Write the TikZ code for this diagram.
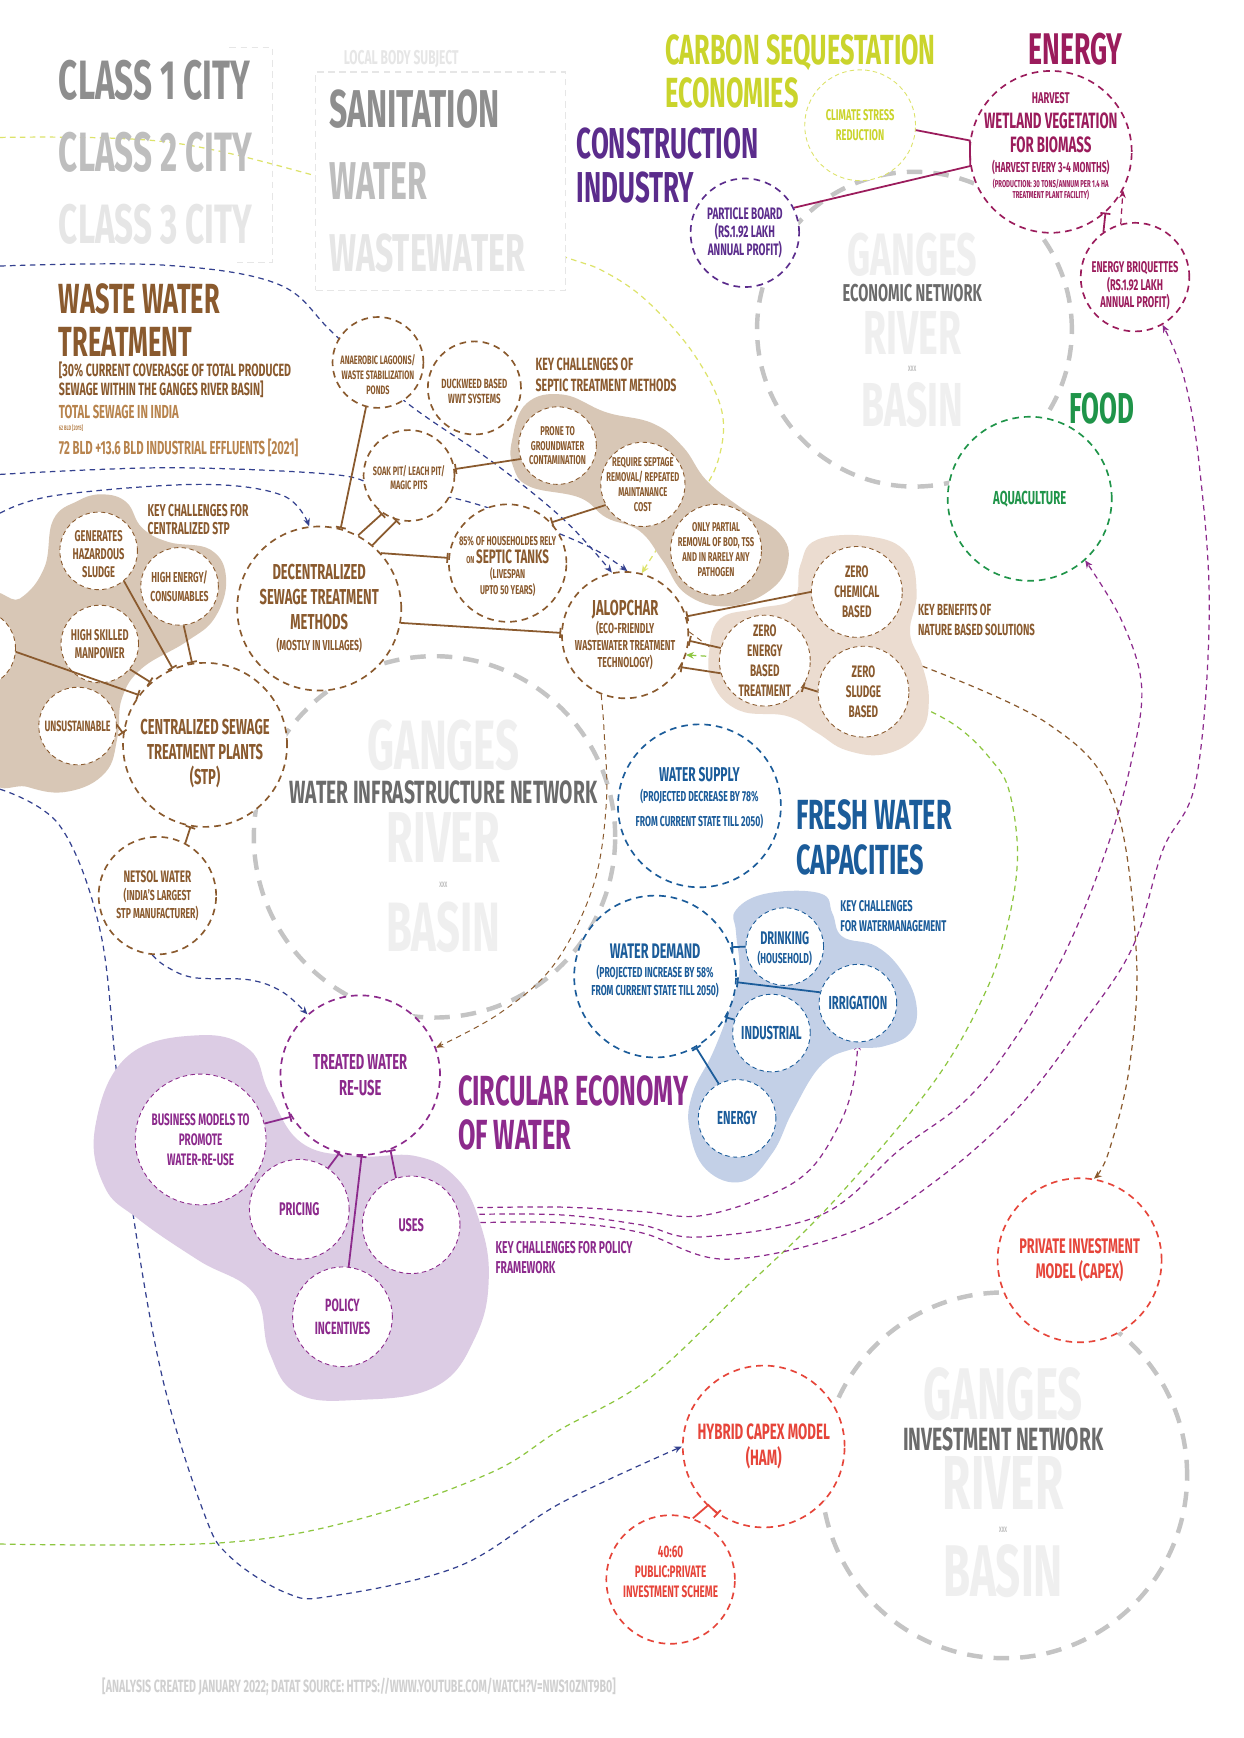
\documentclass[tikz,border=0pt]{standalone}
\usepackage{fontspec}
\setmainfont{Fira Sans}[FakeStretch=0.6]
\usetikzlibrary{arrows.meta}
\pgfdeclarelayer{back}
\pgfdeclarelayer{blobs}
\pgfsetlayers{back,blobs,main}
\definecolor{brn}{HTML}{8A5A2E}
\definecolor{lbrn}{HTML}{B8844E}
\definecolor{beige}{HTML}{D8C7B6}
\definecolor{beigel}{HTML}{EBDCD0}
\definecolor{gone}{HTML}{8E8E8E}
\definecolor{gtwo}{HTML}{BEBEBE}
\definecolor{gthr}{HTML}{E6E6E6}
\definecolor{gnet}{HTML}{6B6B6B}
\definecolor{gbas}{HTML}{EFEFEF}
\definecolor{gcir}{HTML}{C4C4C4}
\definecolor{ylw}{HTML}{CAD42C}
\definecolor{ylwl}{HTML}{DDE36A}
\definecolor{mar}{HTML}{9B1C5C}
\definecolor{pur}{HTML}{5B2C8C}
\definecolor{grn}{HTML}{1F9449}
\definecolor{blu}{HTML}{1B5C9A}
\definecolor{blub}{HTML}{C3D0E7}
\definecolor{vio}{HTML}{8C2A8C}
\definecolor{viob}{HTML}{DCCCE4}
\definecolor{red1}{HTML}{E6453A}
\definecolor{nav}{HTML}{34418F}
\definecolor{lim}{HTML}{8DC63F}
\definecolor{ftr}{HTML}{D0D0D0}
\newcommand{\fs}[2]{\fontsize{#1}{#2}\bfseries}
% circle node plus its text node
\newcommand{\bub}[6][]{%
  \node[#1, minimum size=#4] (#2) at (#3) {};
  \node[lbl, #5] (#2-t) at (#2.center) {#6};}

\begin{document}
\begin{tikzpicture}[x=1pt, y=-1pt,
  dcirc/.style={circle, draw=#1, fill=white, line width=1.5pt, dash pattern=on 6pt off 4.5pt, inner sep=0pt},
  tcirc/.style={circle, draw=#1, fill=white, line width=0.8pt, dash pattern=on 4pt off 3pt, inner sep=0pt},
  basin/.style={circle, draw=gcir, line width=4pt, dash pattern=on 14pt off 10pt, inner sep=0pt},
  lnk/.style={draw=#1, line width=1.1pt, dash pattern=on 5pt off 4pt},
  arw/.style={-{Stealth[length=7pt, width=6pt]}},
  tie/.style={draw=#1, line width=1.6pt, -{Bar[width=9pt]}},
  lbl/.style={inner sep=0pt, align=center},
  ttl/.style={inner sep=0pt, anchor=base west},
  mid/.style={inner sep=0pt, anchor=base}]

  \useasboundingbox (0,0) rectangle (1122,1568);

  \coordinate (wa) at (0,240);
  \coordinate (wb) at (0,428);
  \coordinate (wc) at (0,463);
  \coordinate (we) at (0,712);
  \coordinate (wy) at (0,124);
  \coordinate (wg) at (0,1393);
  \coordinate (nbs) at (832,601);

  \node[draw=gthr, fill=white, line width=1pt, dash pattern=on 6pt off 4pt, minimum width=225pt, minimum height=197pt, inner sep=0pt] (sbox) at (397.5,163.5) {};
  \draw[gthr, line width=1pt, dash pattern=on 6pt off 4pt] (207,43) -- (246,43) -- (246,237) -- (214,237);

  % wastewater
  \bub[dcirc=brn]{ana}{341,327}{82pt}{text=brn, font=\fs{11}{13.5}, yshift=-11pt}{ANAEROBIC LAGOONS/\\WASTE STABILIZATION\\PONDS}
  \bub[dcirc=brn]{duck}{428,350}{84pt}{text=brn, font=\fs{12}{13.5}, yshift=-3pt}{DUCKWEED BASED\\WWT SYSTEMS}
  \bub[dcirc=brn]{soak}{369,429}{82pt}{text=brn, font=\fs{11}{13}, yshift=-2pt}{SOAK PIT/ LEACH PIT/\\MAGIC PITS}
  \bub[dcirc=brn]{sep}{458,508}{106pt}{text=brn, font=\fs{11.5}{14}, yshift=-3pt}{85\% OF HOUSEHOLDES RELY\\[2pt]{\fs{9}{14}ON} {\fs{17.5}{14}SEPTIC TANKS}\\(LIVESPAN\\UPTO 50 YEARS)}
  \bub[dcirc=brn]{dec}{288,549}{148pt}{text=brn, font=\fs{19.5}{22.5}}{DECENTRALIZED\\SEWAGE TREATMENT\\METHODS\\[-4pt]{\fs{13}{15}(MOSTLY IN VILLAGES)}}
  \bub[dcirc=brn]{jal}{564,573}{114pt}{text=brn, font=\fs{13}{15.5}}{{\fs{19.5}{20}JALOPCHAR}\\(ECO-FRIENDLY\\WASTEWATER TREATMENT\\TECHNOLOGY)}
  \bub[dcirc=brn]{stp}{185,672}{148pt}{text=brn, font=\fs{19.5}{22.5}, yshift=-8pt}{CENTRALIZED SEWAGE\\TREATMENT PLANTS\\(STP)}
  \bub[dcirc=brn]{net}{142,808}{106pt}{text=brn, font=\fs{13}{16.5}}{{\fs{15}{16.5}NETSOL WATER}\\(INDIA'S LARGEST\\STP MANUFACTURER)}
  \bub[tcirc=brn]{gen}{89,497}{70pt}{text=brn, font=\fs{14}{16.5}, yshift=-3pt}{GENERATES\\HAZARDOUS\\SLUDGE}
  \bub[tcirc=brn]{hen}{162,529}{70pt}{text=brn, font=\fs{13}{16.5}}{HIGH ENERGY/\\CONSUMABLES}
  \bub[tcirc=brn]{man}{90,581}{70pt}{text=brn, font=\fs{14}{16}}{HIGH SKILLED\\MANPOWER}
  \bub[tcirc=brn]{uns}{70,655}{70pt}{text=brn, font=\fs{13.5}{16}}{UNSUSTAINABLE}
  \bub[tcirc=brn]{lc}{-21,585}{70pt}{}{}
  \bub[tcirc=brn]{pro}{503,402}{70pt}{text=brn, font=\fs{11.5}{13.5}}{PRONE TO\\GROUNDWATER\\CONTAMINATION}
  \bub[tcirc=brn]{req}{580,437}{76pt}{text=brn, font=\fs{11.5}{13.5}}{REQUIRE SEPTAGE\\REMOVAL/ REPEATED\\MAINTANANCE\\COST}
  \bub[tcirc=brn]{onl}{646,496}{82pt}{text=brn, font=\fs{11.5}{13.5}}{ONLY PARTIAL\\REMOVAL OF BOD, TSS\\AND IN RARELY ANY\\PATHOGEN}
  \bub[tcirc=brn]{zc}{773,534}{82pt}{text=brn, font=\fs{15}{18}}{ZERO\\CHEMICAL\\BASED}
  \bub[tcirc=brn]{ze}{690,596}{82pt}{text=brn, font=\fs{15}{18}}{ZERO\\ENERGY\\BASED\\TREATMENT}
  \bub[tcirc=brn]{zs}{779,624}{82pt}{text=brn, font=\fs{15}{18}}{ZERO\\SLUDGE\\BASED}

  % fresh water
  \bub[dcirc=blu]{sup}{631,727}{147pt}{text=blu, font=\fs{13}{18}, yshift=7pt}{{\fs{18}{18}WATER SUPPLY}\\(PROJECTED DECREASE BY 78\%\\[4pt]FROM CURRENT STATE TILL 2050)}
  \bub[dcirc=blu]{dem}{591,881}{146pt}{text=blu, font=\fs{13}{16.5}, yshift=5pt}{{\fs{19}{18}WATER DEMAND}\\(PROJECTED INCREASE BY 58\%\\FROM CURRENT STATE TILL 2050)}
  \bub[tcirc=blu]{dri}{708,854}{70pt}{text=blu, font=\fs{13}{17}, yshift=-2pt}{{\fs{16.5}{17}DRINKING}\\(HOUSEHOLD)}
  \bub[tcirc=blu]{irr}{774,905}{70pt}{text=blu, font=\fs{17}{18}}{IRRIGATION}
  \bub[tcirc=blu]{ind}{696,932}{70pt}{text=blu, font=\fs{17}{18}}{INDUSTRIAL}
  \bub[tcirc=blu]{ben}{665,1009}{70pt}{text=blu, font=\fs{17}{18}}{ENERGY}

  % circular economy
  \bub[dcirc=vio]{tr}{325,970}{144pt}{text=vio, font=\fs{19.5}{23}}{TREATED WATER\\RE-USE}
  \bub[tcirc=vio]{bus}{181,1028}{118pt}{text=vio, font=\fs{15}{18}}{BUSINESS MODELS TO\\PROMOTE\\WATER-RE-USE}
  \bub[tcirc=vio]{pri}{270,1091}{90pt}{text=vio, font=\fs{16.5}{18}}{PRICING}
  \bub[tcirc=vio]{use}{371,1105}{88pt}{text=vio, font=\fs{16.5}{18}}{USES}
  \bub[tcirc=vio]{pol}{309,1188}{90pt}{text=vio, font=\fs{16}{20}}{POLICY\\INCENTIVES}

  % investment
  \bub[dcirc=red1]{piv}{974,1137}{148pt}{text=red1, font=\fs{19}{22}}{PRIVATE INVESTMENT\\MODEL (CAPEX)}
  \bub[dcirc=red1]{ham}{689,1305}{146pt}{text=red1, font=\fs{20}{23}}{HYBRID CAPEX MODEL\\(HAM)}
  \bub[dcirc=red1]{fty}{605,1425}{116pt}{text=red1, font=\fs{15}{18}, yshift=7pt}{40:60\\PUBLIC:PRIVATE\\INVESTMENT SCHEME}

  % economic
  \bub[tcirc=ylwl]{cli}{776,113}{100pt}{text=ylw, font=\fs{14}{18}}{CLIMATE STRESS\\REDUCTION}
  \bub[dcirc=mar]{egy}{948,137}{146pt}{text=mar, font=\fs{14}{22}, yshift=5pt}{HARVEST\\{\fs{20}{22}WETLAND VEGETATION}\\{\fs{20}{22}FOR BIOMASS}\\[-4pt]{\fs{13}{15}(HARVEST EVERY 3-4 MONTHS)}\\[-9pt]{\fs{9}{10}(PRODUCTION: 30 TONS/ANNUM PER 1.4 HA}\\[-12pt]{\fs{9}{10}TREATMENT PLANT FACILITY)}}
  \bub[dcirc=pur]{par}{672,210}{98pt}{text=pur, font=\fs{15}{16.5}}{PARTICLE BOARD\\(RS.1.92 LAKH\\ANNUAL PROFIT)}
  \bub[dcirc=mar]{bri}{1024,250}{98pt}{text=mar, font=\fs{14}{16}, yshift=-8pt}{ENERGY BRIQUETTES\\(RS.1.92 LAKH\\ANNUAL PROFIT)}
  \bub[dcirc=grn]{aqu}{929,450}{148pt}{text=grn, font=\fs{17}{18}}{AQUACULTURE}

  \begin{pgfonlayer}{back}
    \fill[white] (0,0) rectangle (1122,1568);
    \node[basin, minimum size=284pt] (eco) at (825,297) {};
    \node[basin, minimum size=326pt] (wat) at (392,755) {};
    \node[basin, minimum size=330pt] (inv) at (906,1331) {};
    \draw[lnk=ylwl, arw] plot[smooth, tension=0.6] coordinates {(wy) (150,128) (290,160) (400,195) (510,232) (545,245) (583,271) (625,318) (651,370) (648,415) (628,452) (600,485) (jal.75)};
    \draw[lnk=nav, arw] plot[smooth, tension=0.6] coordinates {(wa) (145,239) (250,256) (300,300) (364,361) (446,418) (510,470) (jal.102)};
    \draw[lnk=nav, arw] plot[smooth, tension=0.6] coordinates {(wb) (150,422) (300,428) (345,440) (412,450) (480,472) (535,495) (jal.88)};
    \draw[lnk=nav, arw] plot[smooth, tension=0.6] coordinates {(wc) (50,447) (180,437) (255,447) (dec.97)};
    \draw[lnk=nav, arw] plot[smooth, tension=0.6] coordinates {(we) (54,745) (90,838) (105,966) (120,1095) (147,1245) (184,1365) (207,1404) (258,1437) (299,1440) (414,1413) (506,1356) (ham.180)};
    \draw[lnk=nav, arw] plot[smooth, tension=0.6] coordinates {(net.-95) (150,872) (175,882) (225,884) (255,895) (tr.131)};
    \draw[lnk=lim, arw] plot[smooth, tension=0.6] coordinates {(wg) (198,1392) (322,1371) (442,1329) (505,1290) (584,1245) (670,1164) (751,1085) (842,977) (890,893) (910,830) (918,770) (910,712) (893,684) (868,659) (838,641) (780,615) (700,598) (jal.-18)};
    \draw[lnk=brn, line width=0.9pt, arw] plot[smooth, tension=0.6] coordinates {(jal.-112) (545,660) (547,725) (535,800) (500,870) (451,914) (tr.20)};
    \draw[lnk=brn, arw] plot[smooth, tension=0.6] coordinates {(nbs) (944,652) (1004,719) (1025,857) (1019,962) (1000,1040) (piv.80)};
    \draw[lnk=vio, arw] plot[smooth, tension=0.6] coordinates {(use.20) (505,1089) (578,1093) (631,1097) (692,1079) (731,1055) (758,1013) (770,977) (irr.-90)};
    \draw[lnk=vio, arw] plot[smooth, tension=0.6] coordinates {(use.12) (505,1096) (578,1105) (631,1116) (741,1096) (812,1037) (872,992) (917,935) (962,857) (998,767) (1020,690) (1030,620) (1012,560) (aqu.-48)};
    \draw[lnk=vio, arw] plot[smooth, tension=0.6] coordinates {(use.2) (505,1103) (578,1112) (655,1136) (767,1112) (842,1067) (917,1001) (977,923) (1022,854) (1049,767) (1079,704) (1091,553) (1082,420) (1068,340) (bri.-60)};
    \draw[lnk=mar, arw] (bri.105) -- (egy.-28);
    \draw[lnk=brn, line width=0.8pt] (jal.3) -- (ze.172);
  \end{pgfonlayer}

  \begin{pgfonlayer}{blobs}
    \fill[beige] plot[smooth cycle, tension=0.7] coordinates {(48,469) (70,452) (92,446) (114,453) (128,476) (152,489) (190,496) (204,522) (194,557) (168,579) (128,603) (110,630) (106,665) (95,697) (62,714) (25,710) (-12,692) (-12,548) (18,540) (40,512)};
    \fill[beige] plot[smooth cycle, tension=0.7] coordinates {(462,397) (475,364) (508,356) (547,372) (589,382) (616,403) (637,433) (667,457) (703,481) (711,507) (694,533) (656,547) (619,536) (598,506) (577,479) (547,467) (523,449) (478,439) (463,421)};
    \fill[beigel] plot[smooth cycle, tension=0.7] coordinates {(737,487) (785,484) (818,499) (827,535) (821,571) (832,600) (838,632) (830,661) (800,680) (764,677) (737,661) (710,646) (667,641) (643,617) (640,586) (650,558) (683,549) (716,540) (722,510)};
    \fill[blub] plot[smooth cycle, tension=0.7] coordinates {(664,821) (692,806) (740,806) (751,824) (760,845) (791,854) (815,878) (827,908) (821,932) (797,944) (767,947) (740,962) (715,1003) (697,1040) (670,1066) (637,1055) (622,1019) (625,986) (643,950) (658,911) (667,878) (664,841)};
    \fill[viob] plot[smooth cycle, tension=0.7] coordinates {(86,1016) (115,953) (179,934) (225,947) (243,986) (272,1031) (322,1043) (375,1043) (411,1062) (432,1100) (441,1152) (429,1206) (393,1251) (322,1263) (268,1257) (243,1220) (229,1167) (179,1137) (125,1100) (94,1070)};
  \end{pgfonlayer}

  \draw[tie=brn] (gen.-50) -- (stp.113);
  \draw[tie=brn] (hen.-84) -- (stp.99);
  \draw[tie=brn] (man.-40) -- (stp.131);
  \draw[tie=brn] (lc.-5) -- (stp.143);
  \draw[tie=brn] (uns.2) -- (stp.172);
  \draw[tie=brn] (net.62) -- (stp.-100);
  \draw[tie=brn] (ana.255) -- (dec.75);
  \draw[tie=brn] (dec.62) -- (soak.235);
  \draw[tie=brn] (dec.50) -- (soak.255);
  \draw[tie=brn] (dec.42) -- (sep.175);
  \draw[tie=brn] (dec.-10) -- (jal.178);
  \draw[tie=brn] (pro.200) -- (soak.8);
  \draw[tie=brn] (req.209) -- (sep.43);
  \draw[tie=brn] (zc.180) -- (jal.17);
  \draw[tie=brn] (ze.164) -- (jal.-5);
  \draw[tie=brn] (ze.196) -- (jal.-30);
  \draw[tie=brn] (zs.180) -- (ze.-35);
  \draw[tie=blu] (dri.180) -- (dem.21);
  \draw[tie=blu] (irr.164) -- (dem.-4);
  \draw[tie=blu] (ind.160) -- (dem.-30);
  \draw[tie=blu] (ben.118) -- (dem.-60);
  \draw[tie=vio] (bus.14) -- (tr.211);
  \draw[tie=vio] (pri.55) -- (tr.255);
  \draw[tie=vio] (pol.83) -- (tr.271);
  \draw[tie=vio] (use.108) -- (tr.-68);
  \draw[tie=red1] (fty.70) -- ++(14,-12) -- (ham.236);
  \draw[mar, line width=1.6pt] (cli.-5) -- (egy.172) -- (egy.190) -- (par.27);
  \draw[tie=mar] (bri.125) -- (egy.-48);

  % titles
  \node[ttl, text=gone, font={\fs{50}{52}}] (c1) at (53,90) {CLASS 1 CITY};
  \node[ttl, text=gtwo, font={\fs{50}{52}}] (c2) at (53,155) {CLASS 2 CITY};
  \node[ttl, text=gthr, font={\fs{50}{52}}] (c3) at (53,220) {CLASS 3 CITY};
  \node[ttl, text=gthr, font={\fs{18}{20}}] (lbs) at (310,58) {LOCAL BODY SUBJECT};
  \node[ttl, text=gone, font={\fs{48}{50}}] (san) at (297,115) {SANITATION};
  \node[ttl, text=gtwo, font={\fs{48}{50}}] (wtr) at (297,180) {WATER};
  \node[ttl, text=gthr, font={\fs{48}{50}}] (wst) at (297,245) {WASTEWATER};
  \node[ttl, text=brn, font={\fs{38}{40}}] (ww1) at (53,283) {WASTE WATER};
  \node[ttl, text=brn, font={\fs{38}{40}}] (ww2) at (53,322) {TREATMENT};
  \node[ttl, text=brn, font={\fs{16}{17}}] (cov1) at (53,340) {[30\% CURRENT COVERASGE OF TOTAL PRODUCED};
  \node[ttl, text=brn, font={\fs{16}{17}}] (cov2) at (53,357) {SEWAGE WITHIN THE GANGES RIVER BASIN]};
  \node[ttl, text=lbrn, font={\fs{17}{18}}] (tsi) at (53,378) {TOTAL SEWAGE IN INDIA};
  \node[ttl, text=lbrn, font={\fs{6}{7}}] (b62) at (53,388) {62 BLD [2015]};
  \node[ttl, text=lbrn, font={\fs{17}{18}}] (b72) at (53,410) {72 BLD +13.6 BLD INDUSTRIAL EFFLUENTS [2021]};
  \node[ttl, text=ylw, font={\fs{38}{40}}] (csq1) at (600,58) {CARBON SEQUESTATION};
  \node[ttl, text=ylw, font={\fs{38}{40}}] (csq2) at (600,97) {ECONOMIES};
  \node[ttl, text=mar, font={\fs{40}{42}}] (ene) at (928,58) {ENERGY};
  \node[ttl, text=pur, font={\fs{39}{41}}] (con1) at (520,143) {CONSTRUCTION};
  \node[ttl, text=pur, font={\fs{39}{41}}] (con2) at (520,183) {INDUSTRY};
  \node[ttl, text=grn, font={\fs{39}{41}}] (food) at (965,382) {FOOD};
  \node[ttl, text=blu, font={\fs{38}{40}}] (fw1) at (718,748) {FRESH WATER};
  \node[ttl, text=blu, font={\fs{38}{40}}] (fw2) at (718,789) {CAPACITIES};
  \node[ttl, text=vio, font={\fs{38}{40}}] (ce1) at (413,997) {CIRCULAR ECONOMY};
  \node[ttl, text=vio, font={\fs{38}{40}}] (ce2) at (413,1037) {OF WATER};
  \node[ttl, text=brn, font={\fs{15.5}{17}}] (k1a) at (133,466) {KEY CHALLENGES FOR};
  \node[ttl, text=brn, font={\fs{15.5}{17}}] (k1b) at (133,482) {CENTRALIZED STP};
  \node[ttl, text=brn, font={\fs{16}{17}}] (k2a) at (483,334) {KEY CHALLENGES OF};
  \node[ttl, text=brn, font={\fs{16}{17}}] (k2b) at (483,353) {SEPTIC TREATMENT METHODS};
  \node[ttl, text=brn, font={\fs{14.5}{16}}] (k3a) at (828,555) {KEY BENEFITS OF};
  \node[ttl, text=brn, font={\fs{14.5}{16}}] (k3b) at (828,573) {NATURE BASED SOLUTIONS};
  \node[ttl, text=blu, font={\fs{14}{16}}] (k4a) at (758,822) {KEY CHALLENGES};
  \node[ttl, text=blu, font={\fs{14}{16}}] (k4b) at (758,840) {FOR WATERMANAGEMENT};
  \node[ttl, text=vio, font={\fs{15.5}{16}}] (k5a) at (447,1131) {KEY CHALLENGES FOR POLICY};
  \node[ttl, text=vio, font={\fs{15.5}{16}}] (k5b) at (447,1149) {FRAMEWORK};
  \node[ttl, text=ftr, font={\fs{16}{17}}] (foot) at (92,1527) {[ANALYSIS CREATED JANUARY 2022; DATAT SOURCE: HTTPS://WWW.YOUTUBE.COM/WATCH?V=NWS10ZNT9B0]};

  % river basin labels
  \node[mid, text=gbas, font={\fs{54}{56}}] (eg) at (823,249) {GANGES};
  \node[mid, text=gnet, font={\fs{22}{24}}] (en) at (823,272) {ECONOMIC NETWORK};
  \node[mid, text=gbas, font={\fs{56}{58}}] (er) at (823,320) {RIVER};
  \node[mid, text=gtwo, font={\fs{7}{8}}] (ex) at (823,335) {XXX};
  \node[mid, text=gbas, font={\fs{56}{58}}] (eb) at (823,385) {BASIN};
  \node[mid, text=gbas, font={\fs{63}{65}}] (wg1) at (400,694) {GANGES};
  \node[mid, text=gnet, font={\fs{29}{31}}] (wn) at (400,725) {WATER INFRASTRUCTURE NETWORK};
  \node[mid, text=gbas, font={\fs{65}{67}}] (wr) at (400,778) {RIVER};
  \node[mid, text=gtwo, font={\fs{7}{8}}] (wx) at (400,801) {XXX};
  \node[mid, text=gbas, font={\fs{63}{65}}] (wb1) at (400,858) {BASIN};
  \node[mid, text=gbas, font={\fs{66}{68}}] (ig) at (905,1281) {GANGES};
  \node[mid, text=gnet, font={\fs{29}{31}}] (in) at (905,1309) {INVESTMENT NETWORK};
  \node[mid, text=gbas, font={\fs{69}{71}}] (ir) at (905,1362) {RIVER};
  \node[mid, text=gtwo, font={\fs{7}{8}}] (ix) at (905,1383) {XXX};
  \node[mid, text=gbas, font={\fs{66}{68}}] (ib) at (905,1440) {BASIN};
\end{tikzpicture}
\end{document}
